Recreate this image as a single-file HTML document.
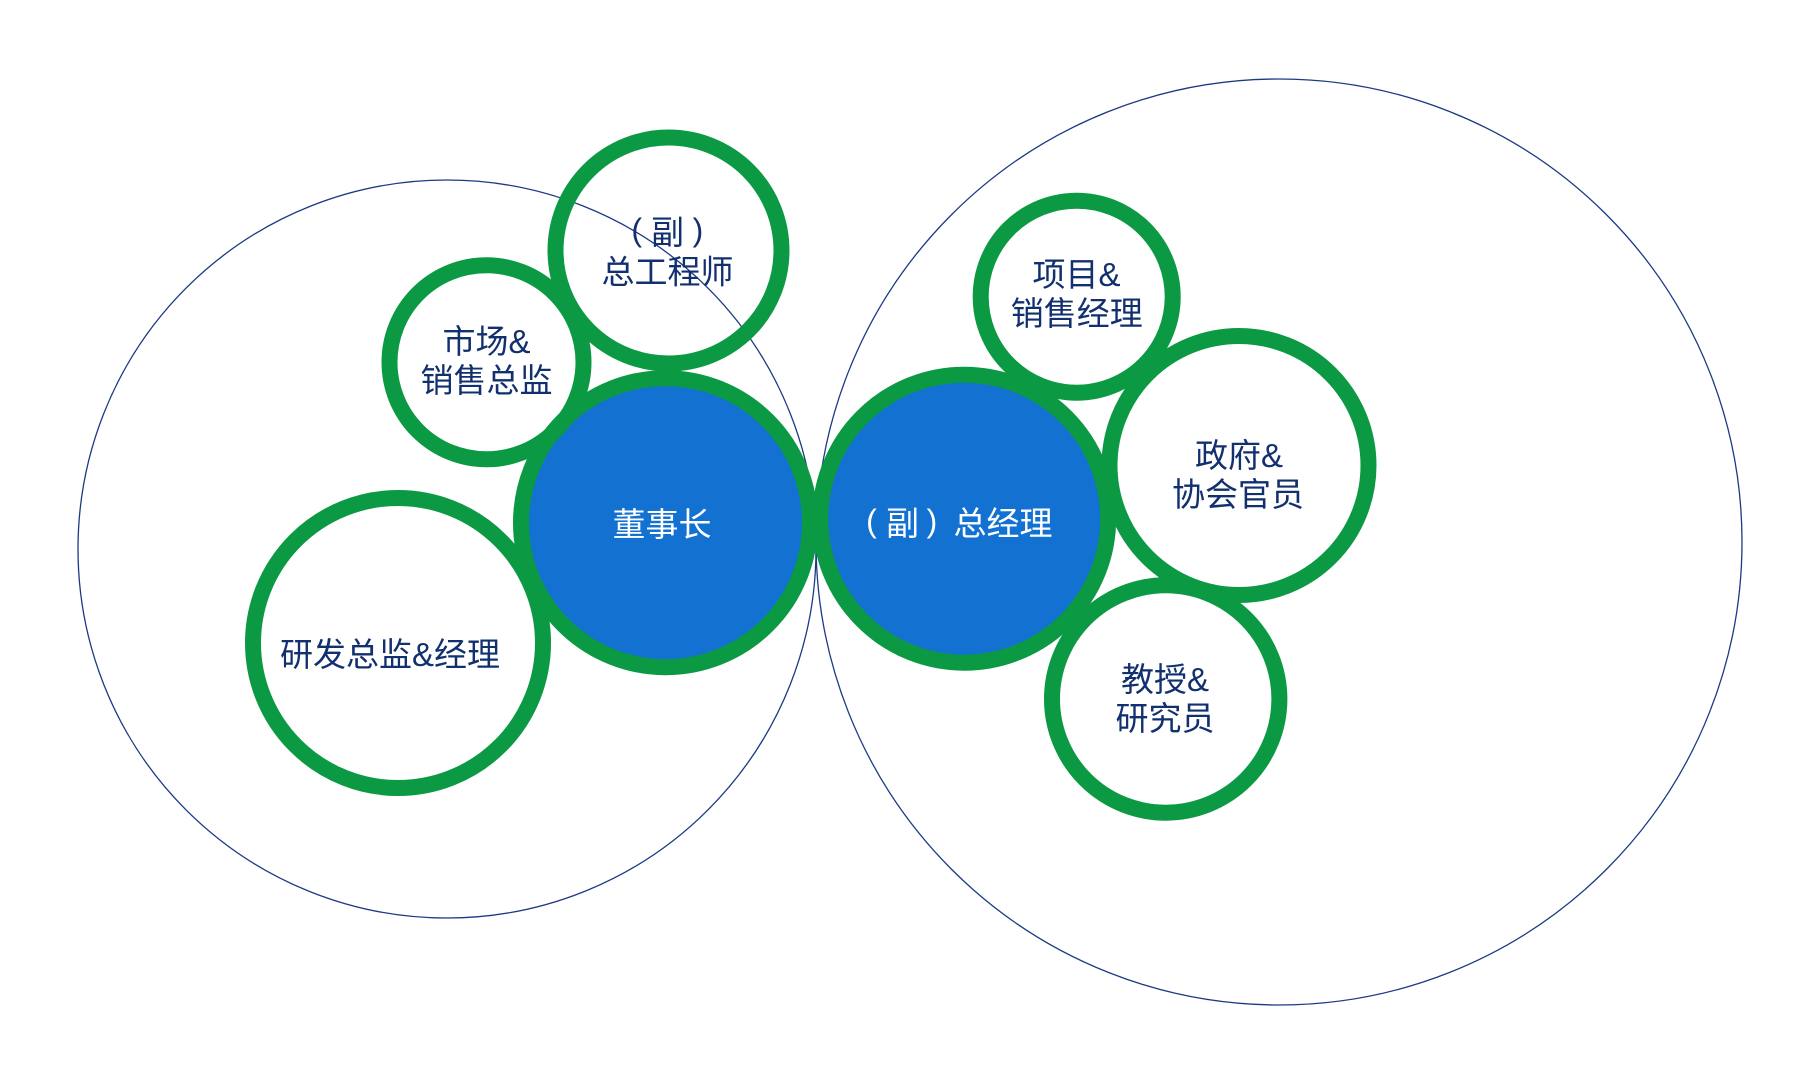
<!DOCTYPE html>
<html>
<head>
<meta charset="utf-8">
<style>
  html, body { margin:0; padding:0; background:#ffffff; }
  body { width:1820px; height:1085px; overflow:hidden; }
  svg { display:block; }
  text { font-family: "Liberation Sans", "Noto Sans CJK SC", sans-serif; font-size:33px; text-anchor:middle; }
  .d { fill:#12306f; }
  .w { fill:#ffffff; }
  .p { font-family: "Liberation Sans", sans-serif; font-size:32px; }
</style>
</head>
<body>
<svg width="1820" height="1085" viewBox="0 0 1820 1085" xmlns="http://www.w3.org/2000/svg">
  <!-- big thin outline circles -->
  <circle cx="447" cy="549" r="369" fill="none" stroke="#1c3a84" stroke-width="1.3"/>
  <circle cx="1279" cy="542" r="463" fill="none" stroke="#1c3a84" stroke-width="1.3"/>

  <!-- blue fills -->
  <circle cx="665.5" cy="522.7" r="145" fill="#1271d1"/>
  <circle cx="964.2" cy="518.7" r="144" fill="#1271d1"/>

  <!-- green rings -->
  <g fill="none" stroke="#0b9a43" stroke-width="16">
    <circle cx="668.5" cy="250.5" r="113"/>
    <circle cx="486.5" cy="362.3" r="97"/>
    <circle cx="665.5" cy="522.7" r="144.5"/>
    <circle cx="398" cy="643" r="145"/>
    <circle cx="964.2" cy="518.7" r="144"/>
    <circle cx="1076.7" cy="296.7" r="96"/>
    <circle cx="1239" cy="465.5" r="129.5"/>
    <circle cx="1165.7" cy="699" r="113.7"/>
  </g>

  <!-- labels -->
  <text class="w" x="662" y="536">董事长</text>

  <text class="w p" x="871.5" y="532">(</text>
  <text class="w" x="902.5" y="535">副</text>
  <text class="w p" x="932" y="532">)</text>
  <text class="w" x="1003" y="535">总经理</text>

  <text class="d p" x="636.7" y="241">(</text>
  <text class="d" x="667.5" y="244">副</text>
  <text class="d p" x="698" y="241">)</text>
  <text class="d" x="667.5" y="283.5">总工程师</text>

  <text class="d" x="486.5" y="353">市场&amp;</text>
  <text class="d" x="486.5" y="392">销售总监</text>

  <text class="d" x="390" y="666">研发总监&amp;经理</text>

  <text class="d" x="1076.5" y="286">项目&amp;</text>
  <text class="d" x="1076.8" y="325">销售经理</text>

  <text class="d" x="1239" y="467">政府&amp;</text>
  <text class="d" x="1238" y="506">协会官员</text>

  <text class="d" x="1165" y="691">教授&amp;</text>
  <text class="d" x="1165" y="730">研究员</text>
</svg>
</body>
</html>
